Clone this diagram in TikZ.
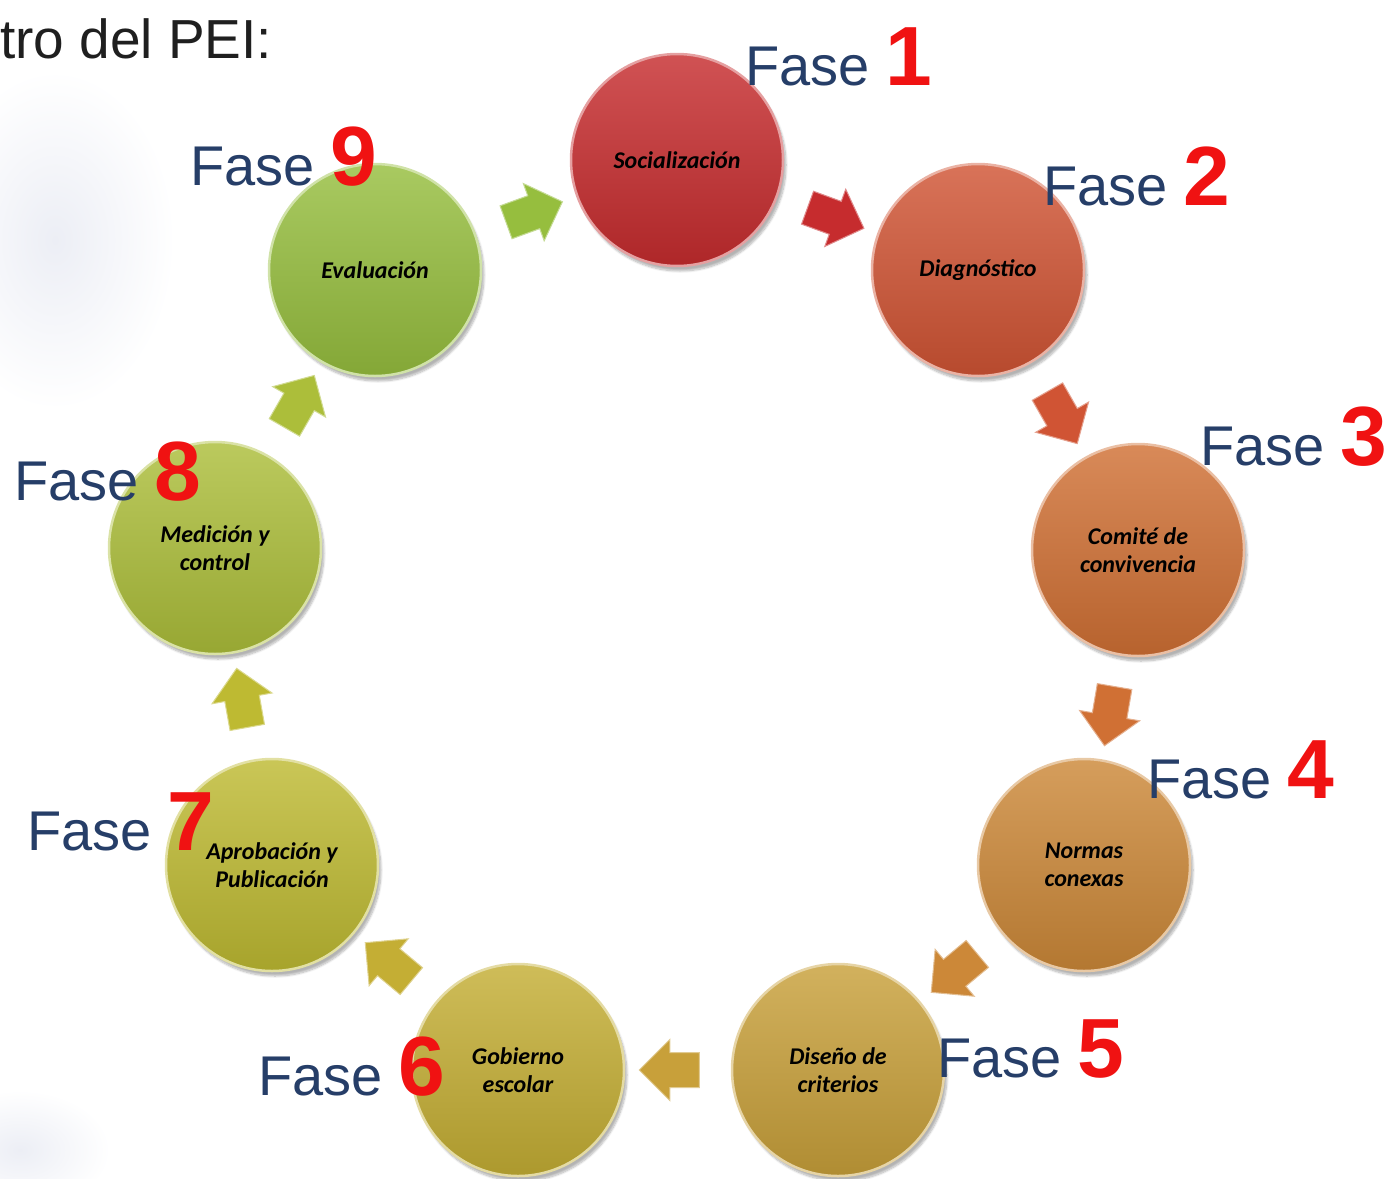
\documentclass[tikz,border=0pt]{standalone}
\usepackage{fontspec}
\setmainfont{Liberation Sans}
\newfontfamily\ballfamily{Carlito}
\usetikzlibrary{shapes.arrows,shadows.blur,calc}
\definecolor{colA}{RGB}{198,44,46}
\definecolor{colB}{RGB}{208,84,52}
\definecolor{colC}{RGB}{208,112,52}
\definecolor{colD}{RGB}{204,136,56}
\definecolor{colE}{RGB}{200,160,58}
\definecolor{colF}{RGB}{196,174,52}
\definecolor{colG}{RGB}{190,186,50}
\definecolor{colH}{RGB}{172,190,58}
\definecolor{colI}{RGB}{150,190,62}
\definecolor{faseblue}{RGB}{38,62,104}
\definecolor{numred}{RGB}{240,18,18}
\definecolor{bgblue}{RGB}{236,238,245}
\begin{document}
\begin{tikzpicture}[x=1pt,y=-1pt,
  ball/.style={circle, minimum size=212pt, inner sep=0pt, align=center,
    font=\ballfamily\bfseries\itshape\fontsize{24}{28}\selectfont, text=black,
    top color=#1!82!white, middle color=#1, bottom color=#1!88!black,
    draw=#1!45!white, line width=2.5pt,
    blur shadow={shadow xshift=3pt, shadow yshift=-5pt, shadow opacity=30, shadow blur steps=8}},
  barrow/.style={single arrow, minimum height=60pt, inner xsep=0pt, inner ysep=17pt,
    single arrow head extend=13pt, fill=#1, draw=#1!55!white, line width=1pt},
  fase/.style={anchor=base west, inner sep=0pt, text=faseblue,
    font=\fontsize{56}{60}\selectfont}
]
\useasboundingbox (0,0) rectangle (1388,1178);
% faint background shapes
\shade[inner color=bgblue, outer color=white] (55,240) ellipse [x radius=120, y radius=170];
\shade[inner color=bgblue, outer color=white] (20,1150) ellipse [x radius=90, y radius=60];

% header text
\node[anchor=base west, inner sep=0pt, text=black!88, font=\fontsize{55}{60}\selectfont] (head) at (0,58) {tro del PEI:};

% circles
\node[ball=colA] (c1) at (677,160) {Socialización};
\node[ball=colB] (c2) at (978,270) {Diagnóstico};
\node[ball=colC] (c3) at (1138,550) {Comité de\\convivencia};
\node[ball=colD] (c4) at (1084,865) {Normas\\conexas};
\node[ball=colE] (c5) at (838,1070) {Diseño de\\criterios};
\node[ball=colF] (c6) at (518,1070) {Gobierno\\escolar};
\node[ball=colG] (c7) at (272,865) {Aprobación y\\Publicación};
\node[ball=colH] (c8) at (215,548) {Medición y\\control};
\node[ball=colI] (c9) at (375,270) {Evaluación};

% block arrows between circles
\foreach \a/\b/\c in {c1/c2/colA, c2/c3/colB, c3/c4/colC, c4/c5/colD, c5/c6/colE,
                      c6/c7/colF, c7/c8/colG, c8/c9/colH, c9/c1/colI} {
  \path let \p1=($(\b)-(\a)$), \n1={atan2(\y1,\x1)} in
    node[barrow=\c, rotate=\n1] (arr-\a) at ($(\a)!0.5!(\b)$) {};
}

% phase labels
\node[fase] (f1) at (745,85)  {Fase~{\bfseries\color{numred}\fontsize{84}{90}\selectfont 1}};
\node[fase] (f2) at (1043,205) {Fase~{\bfseries\color{numred}\fontsize{84}{90}\selectfont 2}};
\node[fase] (f3) at (1200,465) {Fase~{\bfseries\color{numred}\fontsize{84}{90}\selectfont 3}};
\node[fase] (f4) at (1147,798) {Fase~{\bfseries\color{numred}\fontsize{84}{90}\selectfont 4}};
\node[fase] (f5) at (937,1077) {Fase~{\bfseries\color{numred}\fontsize{84}{90}\selectfont 5}};
\node[fase] (f6) at (258,1095) {Fase~{\bfseries\color{numred}\fontsize{84}{90}\selectfont 6}};
\node[fase] (f7) at (27,850)  {Fase~{\bfseries\color{numred}\fontsize{84}{90}\selectfont 7}};
\node[fase] (f8) at (14,500)  {Fase~{\bfseries\color{numred}\fontsize{84}{90}\selectfont 8}};
\node[fase] (f9) at (190,185) {Fase~{\bfseries\color{numred}\fontsize{84}{90}\selectfont 9}};
\end{tikzpicture}
\end{document}
